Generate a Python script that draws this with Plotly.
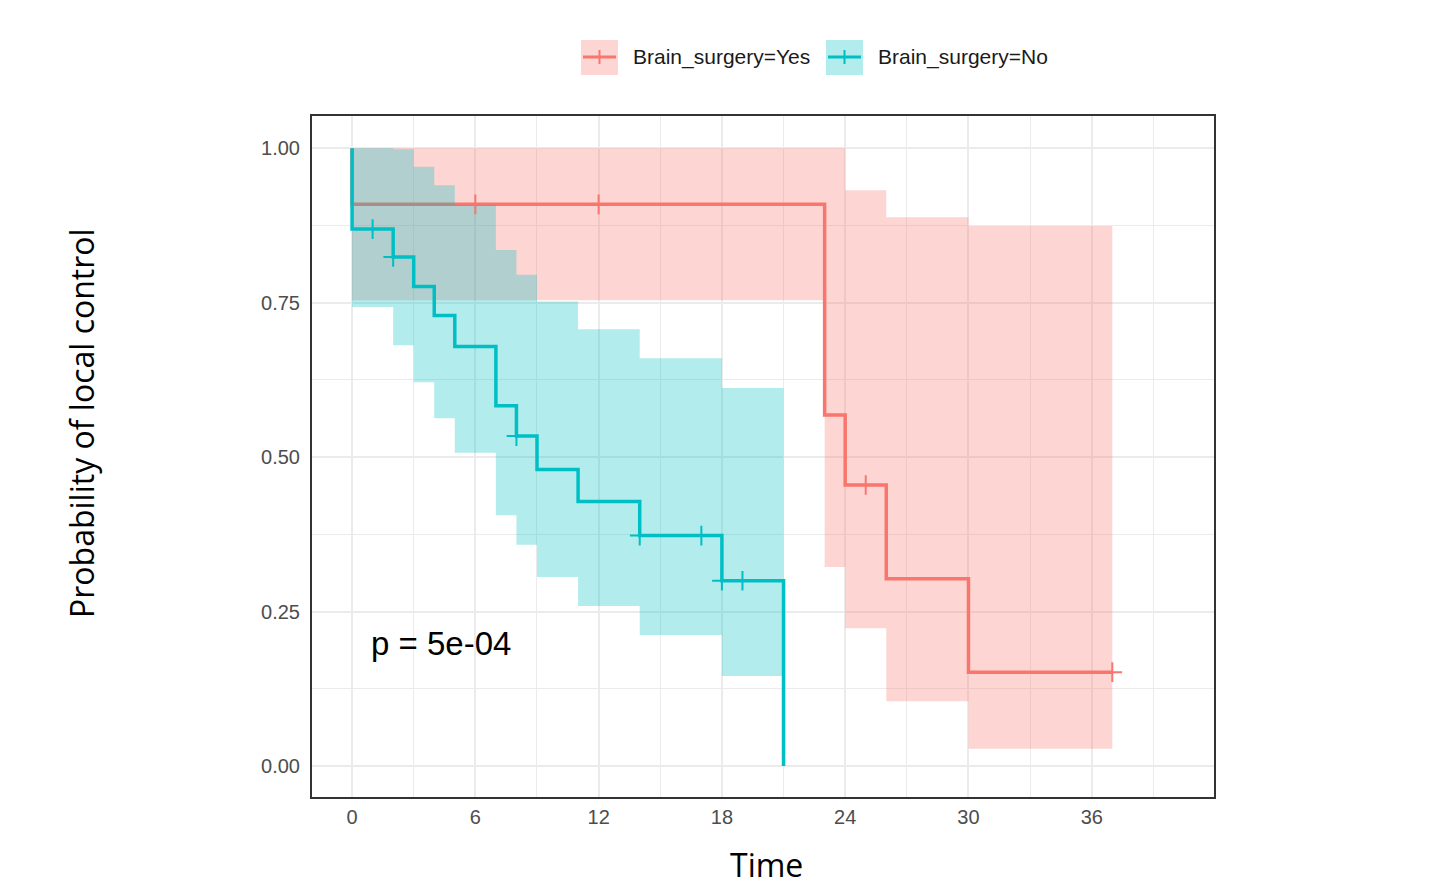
import plotly.graph_objects as go

# Kaplan-Meier curves
yes_time = [0, 23, 24, 26, 30, 37]
yes_surv = [0.909, 0.568, 0.455, 0.303, 0.152, 0.152]
yes_upper = [1.0, 1.0, 0.932, 0.888, 0.874, 0.874]
yes_lower = [0.754, 0.322, 0.223, 0.105, 0.028, 0.028]
yes_cens_t = [6, 12, 25, 37]
yes_cens_s = [0.909, 0.909, 0.455, 0.152]

no_time = [0, 2, 3, 4, 5, 7, 8, 9, 11, 14, 18, 21]
no_surv = [0.869, 0.824, 0.776, 0.729, 0.679, 0.583, 0.534, 0.480, 0.428, 0.373, 0.300, 0.0]
no_upper = [1.0, 0.998, 0.970, 0.940, 0.908, 0.835, 0.795, 0.752, 0.707, 0.660, 0.612, 0.612]
no_lower = [0.743, 0.681, 0.621, 0.563, 0.507, 0.406, 0.358, 0.306, 0.259, 0.212, 0.146, 0.146]
no_cens_t = [1, 2, 8, 14, 17, 18, 19]
no_cens_s = [0.869, 0.824, 0.534, 0.373, 0.373, 0.300, 0.300]

groups = ["Brain_surgery=Yes", "Brain_surgery=No"]
red = "#F8766D"
cyan = "#00BFC4"
red_fill = "rgba(248,118,109,0.3)"
cyan_fill = "rgba(0,191,196,0.3)"

# plot area in page pixels; the page body adds an 8px offset
OFF = 8
L, R, T, B = 312, 1214, 116, 797
W, H = 1444, 884


def px(x, y):
    return (x - L) / (R - L), (B - y) / (B - T)


def band(t, lo, hi, fill):
    return [
        go.Scatter(x=t, y=lo, mode="lines", line=dict(width=0, shape="hv"),
                   hoverinfo="skip", showlegend=False),
        go.Scatter(x=t, y=hi, mode="lines", line=dict(width=0, shape="hv"),
                   fill="tonexty", fillcolor=fill, hoverinfo="skip", showlegend=False),
    ]


def step(t, s, color):
    # curve starts at 1.0 at time 0
    return go.Scatter(x=[0] + t, y=[1.0] + s, mode="lines",
                      line=dict(color=color, width=3.5, shape="hv"), showlegend=False)


def censor(t, s, color):
    return go.Scatter(x=t, y=s, mode="markers", showlegend=False,
                      marker=dict(symbol="cross-thin", size=14, line=dict(color=color, width=2)))


fig = go.Figure()
fig.add_trace(step(yes_time, yes_surv, red))
for tr in band(yes_time, yes_lower, yes_upper, red_fill):
    fig.add_trace(tr)
for tr in band(no_time, no_lower, no_upper, cyan_fill):
    fig.add_trace(tr)
fig.add_trace(step(no_time, no_surv, cyan))
fig.add_trace(censor(yes_cens_t, yes_cens_s, red))
fig.add_trace(censor(no_cens_t, no_cens_s, cyan))

tickfont = dict(family="Liberation Sans, Arial, sans-serif", size=20, color="#4D4D4D")
titlefont = dict(family="Open Sans, Noto Sans, sans-serif", size=32, color="black")

shapes = []
annotations = []
# hand-drawn legend at the top
for (x0, label), col, fcol in zip([(581, groups[0]), (826, groups[1])], [red, cyan], [red_fill, cyan_fill]):
    a = px(x0, 40)
    b = px(x0 + 37, 75)
    shapes.append(dict(type="rect", xref="paper", yref="paper", x0=a[0], x1=b[0], y0=b[1], y1=a[1],
                       fillcolor=fcol, line=dict(width=0)))
    c = px(x0 + 2, 57)
    d = px(x0 + 35, 57)
    shapes.append(dict(type="line", xref="paper", yref="paper", x0=c[0], x1=d[0], y0=c[1], y1=d[1],
                       line=dict(color=col, width=3)))
    e = px(x0 + 18.5, 50)
    f = px(x0 + 18.5, 64)
    shapes.append(dict(type="line", xref="paper", yref="paper", x0=e[0], x1=f[0], y0=f[1], y1=e[1],
                       line=dict(color=col, width=2)))
    g = px(x0 + 50, 57)
    annotations.append(dict(xref="paper", yref="paper", x=g[0], y=g[1], text=label, showarrow=False,
                            xanchor="left", yanchor="middle",
                            font=dict(family="Liberation Sans, Arial, sans-serif", size=21, color="#1A1A1A")))

yt = px(82, 423)
annotations.append(dict(xref="paper", yref="paper", x=yt[0], y=yt[1], text="Probability of local control",
                        textangle=-90, showarrow=False, xanchor="center", yanchor="middle", font=titlefont))
xt = px(766, 864)
annotations.append(dict(xref="paper", yref="paper", x=xt[0], y=xt[1], text="Time",
                        showarrow=False, xanchor="center", yanchor="middle", font=titlefont))
annotations.append(dict(x=0.8, y=0.199, xref="x", yref="y", text="p = 5e-04", showarrow=False,
                        xanchor="left", yanchor="middle",
                        font=dict(family="Liberation Sans, Arial, sans-serif", size=33, color="black")))

fig.update_layout(
    width=W, height=H,
    margin=dict(l=L - OFF, r=W - (R - OFF), t=T - OFF, b=H - (B - OFF)),
    paper_bgcolor="white", plot_bgcolor="white",
    showlegend=False,
    shapes=shapes, annotations=annotations,
    xaxis=dict(range=[-1.95, 41.95], tick0=0, dtick=6, tickfont=tickfont,
               showgrid=True, gridcolor="#EBEBEB", gridwidth=1.5,
               minor=dict(dtick=3, showgrid=True, gridcolor="#EBEBEB", gridwidth=1),
               showline=True, mirror=True, linecolor="#333333", linewidth=2,
               zeroline=False, ticks="", ticklabelstandoff=1),
    yaxis=dict(range=[-0.05, 1.052], tick0=0, dtick=0.25, tickformat=".2f", tickfont=tickfont,
               showgrid=True, gridcolor="#EBEBEB", gridwidth=1.5,
               minor=dict(dtick=0.125, showgrid=True, gridcolor="#EBEBEB", gridwidth=1),
               showline=True, mirror=True, linecolor="#333333", linewidth=2,
               zeroline=False, ticks="", ticklabelstandoff=6),
)

fig.write_html("out.html")
